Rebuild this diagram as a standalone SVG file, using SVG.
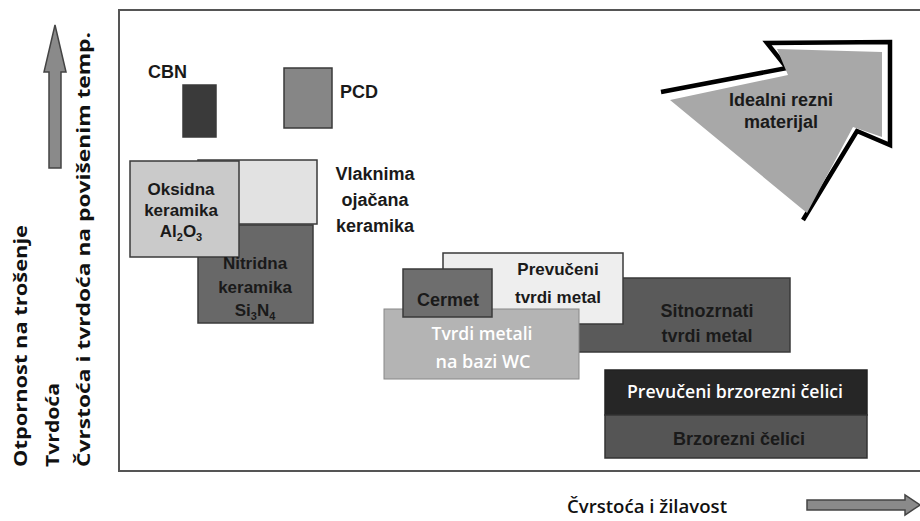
<svg xmlns="http://www.w3.org/2000/svg" width="920" height="521" viewBox="0 0 920 521">
<style>
.frame{fill:none;stroke:#555;stroke-width:2}
.box{stroke:#3a3a3a;stroke-width:1.5}
.lbl{font-family:"Liberation Sans",Arial,sans-serif;font-weight:bold;font-size:18px;fill:#1a1a1a;text-anchor:middle}
.cal{font-family:"Open Sans","Liberation Sans",sans-serif;font-weight:600;font-size:18px;text-anchor:middle}
.vert{font-family:"Open Sans","Liberation Sans",sans-serif;font-weight:700;font-size:18px;fill:#111}
.sub{font-size:11px}
</style>
<rect width="920" height="521" fill="#fff"/>
<g id="frame">
<path class="frame" d="M920 10 H119 V471 H920"/>
</g>
<g id="axes">
<polygon points="49,168 61,168 61,72 66,72 55,25 44,72 49,72" fill="#8a8a8a" stroke="#444" stroke-width="1.5"/>
<polygon points="807,500 905,500 905,495 920,505 905,515 905,510 807,510" fill="#8a8a8a" stroke="#444" stroke-width="1.5"/>
<text class="vert" transform="translate(27,467) rotate(-90)" textLength="242" lengthAdjust="spacingAndGlyphs">Otpornost na trošenje</text>
<text class="vert" transform="translate(59,467) rotate(-90)" textLength="84" lengthAdjust="spacingAndGlyphs">Tvrdoća</text>
<text class="vert" transform="translate(90,467) rotate(-90)" textLength="435" lengthAdjust="spacingAndGlyphs">Čvrstoća  i  tvrdoća na  povišenim  temp.</text>
<text class="cal" x="647" y="513" fill="#111" font-weight="700" textLength="160" lengthAdjust="spacingAndGlyphs">Čvrstoća i žilavost</text>
</g>
<g id="cbn">
<rect class="box" x="183" y="85" width="33" height="52" fill="#3a3a3a" stroke="#222"/>
<text class="lbl" x="148" y="78" text-anchor="start" style="text-anchor:start">CBN</text>
</g>
<g id="pcd">
<rect class="box" x="284" y="68" width="48" height="60" fill="#868686" stroke="#444"/>
<text class="lbl" x="340" y="98" style="text-anchor:start">PCD</text>
</g>
<g id="vlaknima">
<rect class="box" x="198" y="160" width="119" height="64" fill="#e2e2e2" stroke="#555"/>
<text class="lbl" x="375" y="180">Vlaknima</text>
<text class="lbl" x="375" y="206">ojačana</text>
<text class="lbl" x="375" y="232">keramika</text>
</g>
<g id="nitridna">
<rect class="box" x="198" y="225" width="115" height="98" fill="#686868" stroke="#333"/>
</g>
<g id="oksidna">
<rect class="box" x="130" y="161" width="109" height="96" fill="#cacaca" stroke="#444"/>
<text class="lbl" x="181" y="195" style="font-size:17px">Oksidna</text>
<text class="lbl" x="181" y="216" style="font-size:17px">keramika</text>
<text class="lbl" x="181" y="237" style="font-size:17px">Al<tspan class="sub" dy="4">2</tspan><tspan dy="-4">O</tspan><tspan class="sub" dy="4">3</tspan></text>
</g>
<g id="nitridna-text">
<text class="lbl" x="255" y="269" style="font-size:17px">Nitridna</text>
<text class="lbl" x="255" y="293" style="font-size:17px">keramika</text>
<text class="lbl" x="255" y="316" style="font-size:17px">Si<tspan class="sub" dy="4">3</tspan><tspan dy="-4">N</tspan><tspan class="sub" dy="4">4</tspan></text>
</g>
<g id="sitnozrnati">
<rect class="box" x="500" y="278" width="290" height="74" fill="#5a5a5a" stroke="#333"/>
<text class="lbl" x="707" y="317">Sitnozrnati</text>
<text class="lbl" x="707" y="342">tvrdi metal</text>
</g>
<g id="prevuceni-tvrdi">
<rect class="box" x="443" y="253" width="180" height="71" fill="#eeeeee" stroke="#444"/>
<text class="lbl" x="558" y="275" style="font-size:17px">Prevučeni</text>
<text class="lbl" x="558" y="303" style="font-size:17px">tvrdi metal</text>
</g>
<g id="tvrdi-wc">
<rect x="384" y="309" width="195" height="70" fill="#b4b4b4" stroke="#888" stroke-width="1"/>
<text class="cal" x="482" y="340" fill="#fff" textLength="101" lengthAdjust="spacingAndGlyphs">Tvrdi metali</text>
<text class="cal" x="483" y="368" fill="#fff" textLength="95" lengthAdjust="spacingAndGlyphs">na bazi WC</text>
</g>
<g id="cermet">
<rect class="box" x="403" y="269" width="89" height="48" fill="#6e6e6e" stroke="#333"/>
<text class="lbl" x="448" y="306">Cermet</text>
</g>
<g id="prevuceni-brzorezni">
<rect x="605" y="370" width="262" height="45" fill="#262626" stroke="#222" stroke-width="1.5"/>
<text class="cal" x="735" y="398" fill="#fff" textLength="216" lengthAdjust="spacingAndGlyphs">Prevučeni brzorezni čelici</text>
</g>
<g id="brzorezni">
<rect x="605" y="415" width="262" height="43" fill="#555" stroke="#333" stroke-width="1.5"/>
<text class="lbl" x="739" y="445">Brzorezni čelici</text>
</g>
<g id="idealni">
<polyline points="661,92 787,68 767,43 890,42 890,145 857,131 803,220" fill="none" stroke="#000" stroke-width="4.5" stroke-linejoin="miter"/>
<polygon points="670,100 788,75 777,49 882,52 882,137 853,127 807,213" fill="#a8a8a8"/>
<text class="lbl" x="781" y="106">Idealni rezni</text>
<text class="lbl" x="781" y="128">materijal</text>
</g>
</svg>
